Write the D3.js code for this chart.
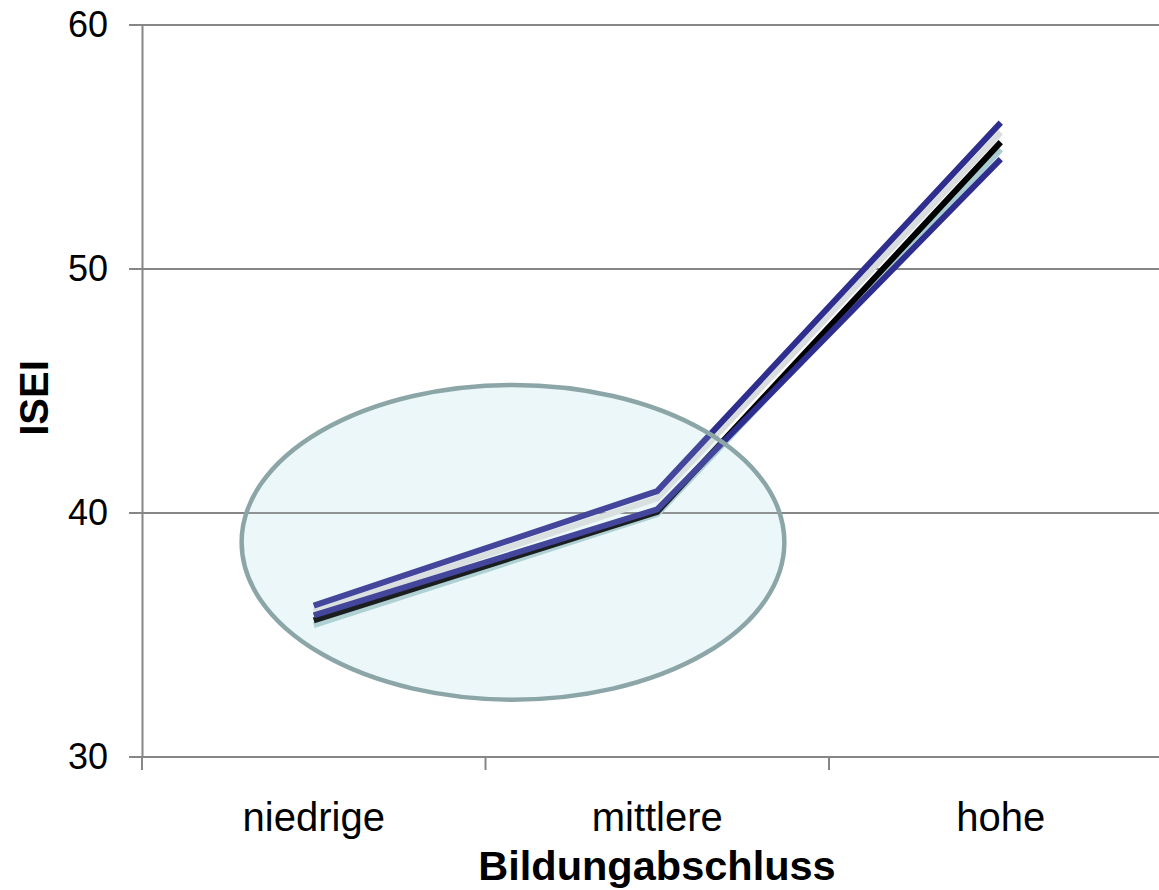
<!DOCTYPE html>
<html><head><meta charset="utf-8">
<script src="https://cdn.jsdelivr.net/npm/d3@7"></script>
<style>html,body{margin:0;padding:0;background:#fff;}svg{display:block;}</style>
</head><body>
<svg id="chart" width="1159" height="890"></svg>
<script>
const categories = ["niedrige", "mittlere", "hohe"];
const yTicks = [30, 40, 50, 60];
const seriesBlueA = [36.2, 40.9, 56.0];
const seriesGray  = [35.95, 40.6, 55.6];
const seriesBlack = [35.6, 40.05, 55.2];
const seriesTeal  = [35.4, 39.95, 54.9];
const seriesBlueB = [35.8, 40.15, 54.5];
const ellipseData = {cat: 0.58, value: 38.8, halfWidthCats: 0.79, halfHeight: 6.45};

const series = [
  {name: "teal", values: seriesTeal, color: "#a9ccd0"},
  {name: "black", values: seriesBlack, color: "#000000"},
  {name: "gray", values: seriesGray, color: "#dadddd"},
  {name: "blueB", values: seriesBlueB, color: "#2e2e8e"},
  {name: "blueA", values: seriesBlueA, color: "#2e2e8e"}
];

const svg = d3.select("#chart");
const mLeft = 142, mRight = 1172.5, mTop = 25, mBottom = 757;
const x = d3.scaleBand().domain(categories).range([mLeft, mRight]);
const y = d3.scaleLinear().domain([30, 60]).range([mBottom, mTop]);
const font = "'Liberation Sans', Arial, sans-serif";

const cx = x(categories[0]) + x.bandwidth() / 2 + ellipseData.cat * x.step();
const ell = {cx: cx, cy: y(ellipseData.value),
  rx: ellipseData.halfWidthCats * x.step(), ry: y(30) - y(30 + ellipseData.halfHeight)};

// ellipse fill (behind)
svg.append("ellipse").attr("cx", ell.cx).attr("cy", ell.cy).attr("rx", ell.rx).attr("ry", ell.ry)
  .attr("fill", "#eef8fa");

// gridlines
svg.append("g").selectAll("line").data(yTicks).join("line")
  .attr("x1", 129).attr("x2", 1159)
  .attr("y1", d => y(d)).attr("y2", d => y(d))
  .attr("stroke", "#868686").attr("stroke-width", 2);

// y axis
const yAxis = svg.append("g").attr("transform", `translate(${mLeft},0)`)
  .call(d3.axisLeft(y).tickValues(yTicks).tickSize(0).tickPadding(34));
yAxis.select(".domain").attr("stroke", "#868686").attr("stroke-width", 2);
yAxis.selectAll("text").attr("font-family", font).attr("font-size", 36).attr("fill", "#000");

// x axis
const xAxis = svg.append("g").attr("transform", `translate(0,${mBottom})`)
  .call(d3.axisBottom(x).tickSize(0).tickPadding(46));
xAxis.select(".domain").remove();
xAxis.selectAll("text").attr("font-family", font).attr("font-size", 40).attr("fill", "#000");
const bounds = [...categories.map(c => x(c)), mRight];
svg.append("g").selectAll("line").data(bounds).join("line")
  .attr("x1", d => d).attr("x2", d => d).attr("y1", mBottom).attr("y2", mBottom + 13)
  .attr("stroke", "#868686").attr("stroke-width", 2);

// lines
const line = d3.line()
  .x((d, i) => x(categories[i]) + x.bandwidth() / 2)
  .y(d => y(d));
svg.append("g").selectAll("path").data(series).join("path")
  .attr("d", d => line(d.values))
  .attr("fill", "none").attr("stroke", d => d.color)
  .attr("stroke-width", 6).attr("stroke-linejoin", "miter");

// ellipse light overlay + outline (on top)
svg.append("ellipse").attr("cx", ell.cx).attr("cy", ell.cy).attr("rx", ell.rx).attr("ry", ell.ry)
  .attr("fill", "#e2f3f6").attr("fill-opacity", 0.12)
  .attr("stroke", "#8ca6a8").attr("stroke-width", 4.5);

// axis titles
svg.append("text").attr("x", 657).attr("y", 880)
  .attr("text-anchor", "middle").attr("font-family", font).attr("font-weight", "bold")
  .attr("font-size", 41.5).text("Bildungabschluss");
svg.append("text").attr("transform", "translate(48,398) rotate(-90)")
  .attr("text-anchor", "middle").attr("font-family", font).attr("font-weight", "bold")
  .attr("font-size", 40).text("ISEI");
</script>
</body></html>
